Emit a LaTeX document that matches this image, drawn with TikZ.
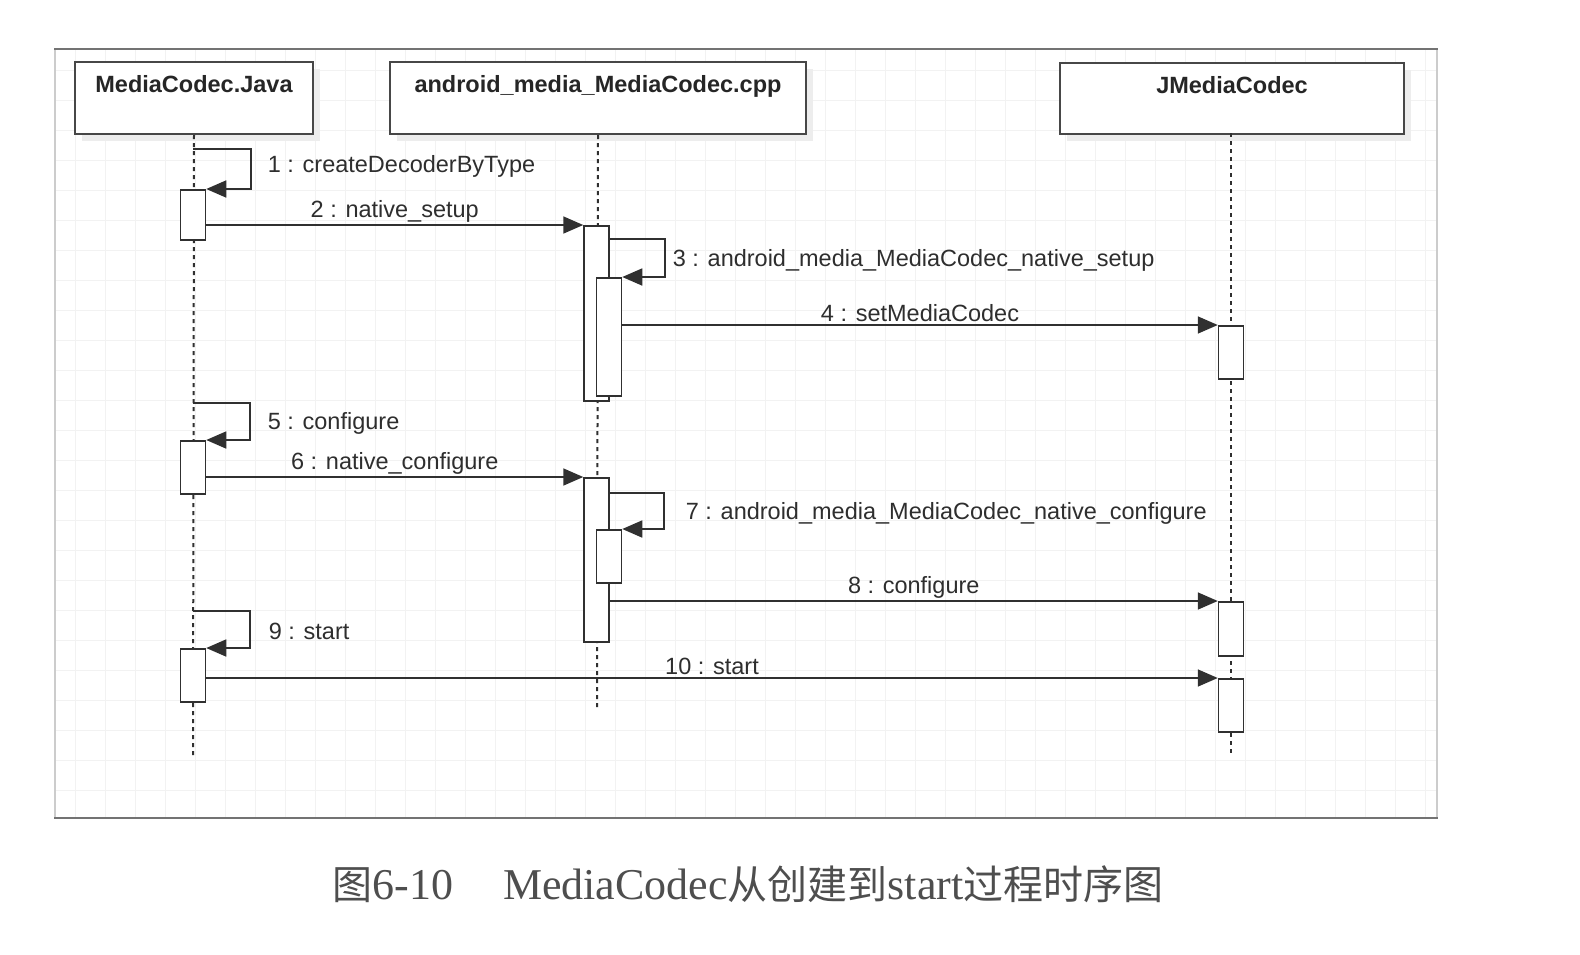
\documentclass[tikz,border=0pt]{standalone}
\usepackage{fontspec}
\setmainfont{Liberation Sans}
\newfontfamily\capserif{Liberation Serif}
\newfontfamily\cjk{Noto Sans CJK SC}
\usetikzlibrary{arrows.meta,shadows}
\definecolor{txt}{HTML}{2E2E2E}
\definecolor{edge}{HTML}{303030}
\definecolor{capc}{HTML}{4E4E4E}
\tikzset{
  act/.style={draw=edge, fill=white, line width=1.5pt, minimum width=25pt, inner sep=0pt, anchor=north},
  msg/.style={draw=edge, line width=1.7pt, -{Triangle[length=20pt,width=17pt]}},
  life/.style={draw=edge, line width=2pt, dash pattern=on 4pt off 4pt},
  head/.style={draw=black!72, line width=2pt, fill=white, inner sep=0pt, anchor=north west,
    drop shadow={shadow xshift=7pt, shadow yshift=-7pt, fill=black!7, opacity=1}},
  headtxt/.style={font=\bfseries\fontsize{23.5}{26}\selectfont, text=black!85},
  lbl/.style={font=\fontsize{23.5}{26}\selectfont, text=txt, inner sep=2pt},
  gridline/.style={draw=black!5, line width=0.8pt}
}
\newcommand{\cjkc}[1]{{\cjk\fontsize{40}{46}\selectfont #1}}
\begin{document}
\begin{tikzpicture}[x=1pt,y=-1pt]
\useasboundingbox (0,0) rectangle (1580,954);
% frame
\fill[white] (54,49) rectangle (1437,818);
\foreach \gx in {75,105,...,1425} \draw[gridline] (\gx,50) -- (\gx,817);
\foreach \gy in {70,100,...,810} \draw[gridline] (56,\gy) -- (1436,\gy);
\draw[draw=black!20, line width=2pt] (55,49) -- (55,818);
\draw[draw=black!20, line width=2pt] (1437,49) -- (1437,818);
\draw[draw=black!55, line width=2pt] (54,49) -- (1438,49);
\draw[draw=black!55, line width=2.5pt] (54,818) -- (1438,818);
% headers
\node[head, minimum width=238pt, minimum height=72pt,
  label={[headtxt, anchor=north, yshift=-11pt]north:MediaCodec.Java}] (hj) at (74,61) {};
\node[head, minimum width=416pt, minimum height=72pt,
  label={[headtxt, anchor=north, yshift=-11pt]north:android\_media\_MediaCodec.cpp}] (ha) at (389,61) {};
\node[head, minimum width=344pt, minimum height=71pt,
  label={[headtxt, anchor=north, yshift=-11pt]north:JMediaCodec}] (hm) at (1059,62) {};
% lifeline ends
\coordinate (jend) at (193,756);
\coordinate (aend) at (597,710);
\coordinate (mend) at (1231,753);
\draw[life] (hj.south) -- (jend);
\draw[life] (ha.south) -- (aend);
\draw[life] (1231,133) -- (mend);
% activations
\node[act, minimum height=50pt] (a1) at (193,189) {};
\node[act, minimum height=53pt] (a2) at (193,440) {};
\node[act, minimum height=53pt] (a3) at (193,648) {};
\node[act, minimum height=175pt] (b1) at (596.5,225) {};
\node[act, minimum height=118pt] (b1i) at (609,277) {};
\node[act, minimum height=164pt] (b2) at (596.5,477) {};
\node[act, minimum height=53pt] (b2i) at (609,529) {};
\node[act, minimum height=53pt] (j1) at (1231,325) {};
\node[act, minimum height=54pt] (j2) at (1231,601) {};
\node[act, minimum height=53pt] (j3) at (1231,678) {};
% self messages
\draw[msg] ([yshift=40pt]a1.north) -- ++(58,0) |- node[lbl, pos=0.25, anchor=west, xshift=14pt, yshift=3pt] {1 : createDecoderByType} (a1.north east);
\draw[msg] ([yshift=38pt]b1i.north) -- ++(56,0) |- node[lbl, pos=0.25, anchor=west, xshift=5pt, yshift=-2pt] {3 : android\_media\_MediaCodec\_native\_setup} (b1i.north east);
\draw[msg] ([yshift=37pt]a2.north) -- ++(57,0) |- node[lbl, pos=0.25, anchor=west, xshift=15pt, yshift=-2pt] {5 : configure} (a2.north east);
\draw[msg] ([yshift=36pt]b2i.north) -- ++(55,0) |- node[lbl, pos=0.25, anchor=west, xshift=19pt, yshift=-2pt] {7 : android\_media\_MediaCodec\_native\_configure} (b2i.north east);
\draw[msg] ([yshift=37pt]a3.north) -- ++(57,0) |- node[lbl, pos=0.25, anchor=west, xshift=16pt, yshift=-2pt] {9 : start} (a3.north east);
% messages
\draw[msg] (a1.east |- b1.north) -- node[lbl, above] {2 : native\_setup} (b1.north west);
\draw[msg] (b1i.east |- j1.north) -- node[lbl, above] {4 : setMediaCodec} (j1.north west);
\draw[msg] (a2.east |- b2.north) -- node[lbl, above] {6 : native\_configure} (b2.north west);
\draw[msg] (b2.east |- j2.north) -- node[lbl, above] {8 : configure} (j2.north west);
\draw[msg] (a3.east |- j3.north) -- node[lbl, above] {10 : start} (j3.north west);
% caption
\node[text=capc, font=\capserif\fontsize{44}{50}\selectfont, inner sep=0pt] (cap) at (748,884)
  {\cjkc{图}6-10\hspace{50pt}MediaCodec\cjkc{从创建到}start\cjkc{过程时序图}};
\end{tikzpicture}
\end{document}
